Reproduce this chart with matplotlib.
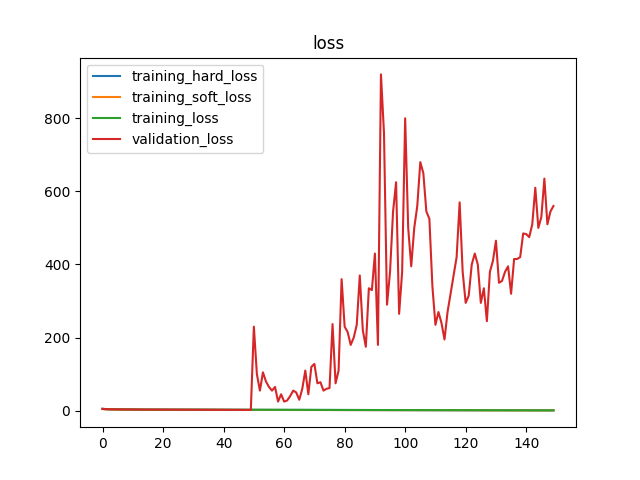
import numpy as np
import matplotlib
matplotlib.use('Agg')
import matplotlib.pyplot as plt

epochs = list(range(150))

# training curves: slow decay from ~5 to ~1 (nearly flat)
train_start = [5.0, 4.2, 3.9, 3.7, 3.6, 3.5, 3.4, 3.3, 3.2, 3.1]
train_hard = train_start + [3.0 - 0.0145 * i for i in range(140)]
train_soft = [v * 0.9 for v in train_hard]
train_loss = [v * 1.05 for v in train_hard]

val_first = [5.0, 4.5, 4.2, 4.0, 3.9, 3.8, 3.7, 3.6, 3.5, 3.4] + [3.3 - 0.03 * i for i in range(40)]
val_rest = [230, 100, 55, 105, 80, 65, 55, 65, 25, 45,
            25, 28, 40, 55, 50, 30, 60, 110, 45, 120,
            128, 75, 78, 55, 60, 62, 237, 75, 110, 360,
            230, 215, 180, 200, 235, 370, 220, 175, 335, 330,
            430, 180, 920, 760, 290, 380, 545, 625, 265, 380,
            800, 500, 395, 500, 560, 680, 650, 545, 525, 340,
            235, 270, 240, 195, 270, 320, 370, 420, 570, 380,
            295, 315, 400, 430, 400, 295, 335, 245, 380, 410,
            465, 350, 355, 380, 395, 320, 415, 415, 420, 485,
            483, 475, 510, 610, 500, 530, 635, 510, 545, 560]
val_loss = val_first + val_rest

fig, ax = plt.subplots(figsize=(6.4, 4.8), dpi=100)
ax.plot(epochs, train_hard, label="training_hard_loss")
ax.plot(epochs, train_soft, label="training_soft_loss")
ax.plot(epochs, train_loss, label="training_loss")
ax.plot(epochs, val_loss, label="validation_loss")
ax.set_title("loss")
ax.legend(loc="upper left")
plt.savefig("out.png")
